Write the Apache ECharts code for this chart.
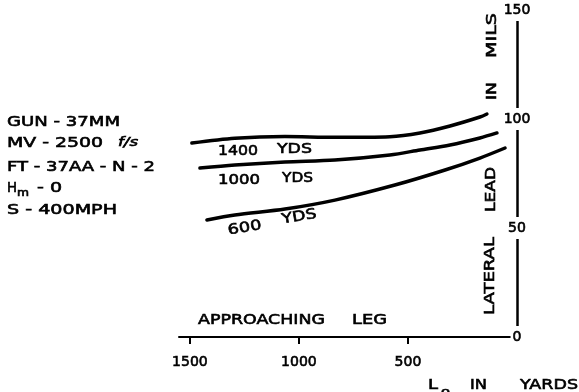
<!DOCTYPE html>
<html>
<head>
<meta charset="utf-8">
<script src="https://cdn.jsdelivr.net/npm/echarts@6/dist/echarts.min.js"></script>
<style>
html,body{margin:0;padding:0;background:#fff;}
#chart{width:579px;height:392px;}
</style>
</head>
<body>
<div id="chart"></div>
<script>
// ---- data ----
const rangeTicks = [500, 1000, 1500];
const leadTicks = [0, 50, 100, 150];

const range1400 = [1491, 1294, 1064, 835, 583, 445, 307, 170, 138];
const lead1400  = [89.0, 91.2, 92.0, 91.6, 91.9, 93.6, 96.8, 100.9, 102.3];

const range1000 = [1454, 1294, 1064, 835, 583, 445, 307, 170, 92];
const lead1000  = [77.5, 78.9, 80.3, 81.2, 83.5, 85.8, 88.1, 91.3, 93.6];

const range600 = [1422, 1294, 1064, 835, 560, 330, 170, 55];
const lead600  = [53.7, 56.0, 58.7, 62.8, 69.7, 76.6, 82.1, 86.7];

const pairs = (xs, ys) => xs.map((x, i) => [x, ys[i]]);

// ---- text helpers ----
const FONT = 'DejaVu Sans';
const mctx = document.createElement('canvas').getContext('2d');
function txt(str, x, y, w, o) {
  o = o || {};
  const size = o.size || 14, weight = o.weight || 'normal', fstyle = o.fstyle || 'normal';
  const font = fstyle + ' ' + weight + ' ' + size + 'px "' + FONT + '"';
  mctx.font = font;
  const m = mctx.measureText(str).width;
  return {
    type: 'text', x: x, y: y, rotation: o.rot || 0,
    scaleX: w ? w / m : 1, silent: true, z: 10,
    style: { text: str, font: font, fill: '#000', stroke: '#000', lineWidth: 0.6,
             align: 'left', verticalAlign: 'middle' }
  };
}

const graphics = [
  // spec block
  txt('GUN - 37MM', 7, 122, 113),
  txt('MV - 2500', 7, 143, 96),
  txt('f/s', 118, 143, 20, { size: 12, fstyle: 'italic' }),
  txt('FT - 37AA - N - 2', 7, 167, 148),
  txt('H', 7, 188, 10),
  txt('m', 17, 193, 12, { size: 10 }),
  txt('- 0', 37, 188, 25),
  txt('S - 400MPH', 7, 210, 110),
  // curve annotations
  txt('1400', 218, 151, 40),
  txt('YDS', 277, 149, 35),
  txt('1000', 218, 180, 42),
  txt('YDS', 282, 178, 31),
  txt('600', 228, 231, 34, { rot: 0.17 }),
  txt('YDS', 282, 220, 35, { rot: 0.17 }),
  // leg label
  txt('APPROACHING', 198, 320, 127),
  txt('LEG', 352, 320, 35),
  // x axis title
  txt('L', 428, 385, 10),
  txt('o', 441, 392, 9, { size: 10 }),
  txt('IN', 470, 385, 17),
  txt('YARDS', 520, 385, 58),
  // y axis title (vertical)
  txt('LATERAL', 490, 315, 78, { rot: Math.PI / 2 }),
  txt('LEAD', 491, 212, 45, { rot: Math.PI / 2 }),
  txt('IN', 492, 100, 18, { rot: Math.PI / 2 }),
  txt('MILS', 492, 58, 45, { rot: Math.PI / 2 })
];

const lineSeries = (name, data) => ({
  name: name, type: 'line', data: data, smooth: 0.3,
  showSymbol: false, symbol: 'none', silent: true,
  lineStyle: { color: '#000', width: 3.5, cap: 'round' }
});

const labelText = {
  color: '#000', fontFamily: FONT, fontWeight: 'normal', fontSize: 14,
  textBorderColor: '#000', textBorderWidth: 0.6,
  formatter: v => String(v)
};

const chart = echarts.init(document.getElementById('chart'), null, { renderer: 'canvas' });
chart.setOption({
  animation: false,
  backgroundColor: '#fff',
  grid: { left: 179, right: 62, top: 10, bottom: 55, containLabel: false, outerBoundsMode: 'none' },
  xAxis: {
    type: 'value', min: 0, max: 1550, inverse: true, position: 'bottom',
    axisLine: { show: true, onZero: false, lineStyle: { color: '#000', width: 2 } },
    axisTick: { show: true, customValues: rangeTicks, length: 7, lineStyle: { color: '#000', width: 2 } },
    axisLabel: Object.assign({ customValues: rangeTicks, margin: 18 }, labelText),
    splitLine: { show: false }
  },
  yAxis: {
    type: 'value', min: 0, max: 150, interval: 50, position: 'right', z: 3,
    axisLine: { show: true, onZero: false, lineStyle: { color: '#000', width: 2.5 } },
    axisTick: { show: false },
    axisLabel: Object.assign({
      margin: 0, align: 'center', backgroundColor: '#fff', padding: [4, 2]
    }, labelText),
    splitLine: { show: false }
  },
  graphic: graphics,
  series: [
    lineSeries('1400 YDS', pairs(range1400, lead1400)),
    lineSeries('1000 YDS', pairs(range1000, lead1000)),
    lineSeries('600 YDS', pairs(range600, lead600))
  ]
});
</script>
</body>
</html>
